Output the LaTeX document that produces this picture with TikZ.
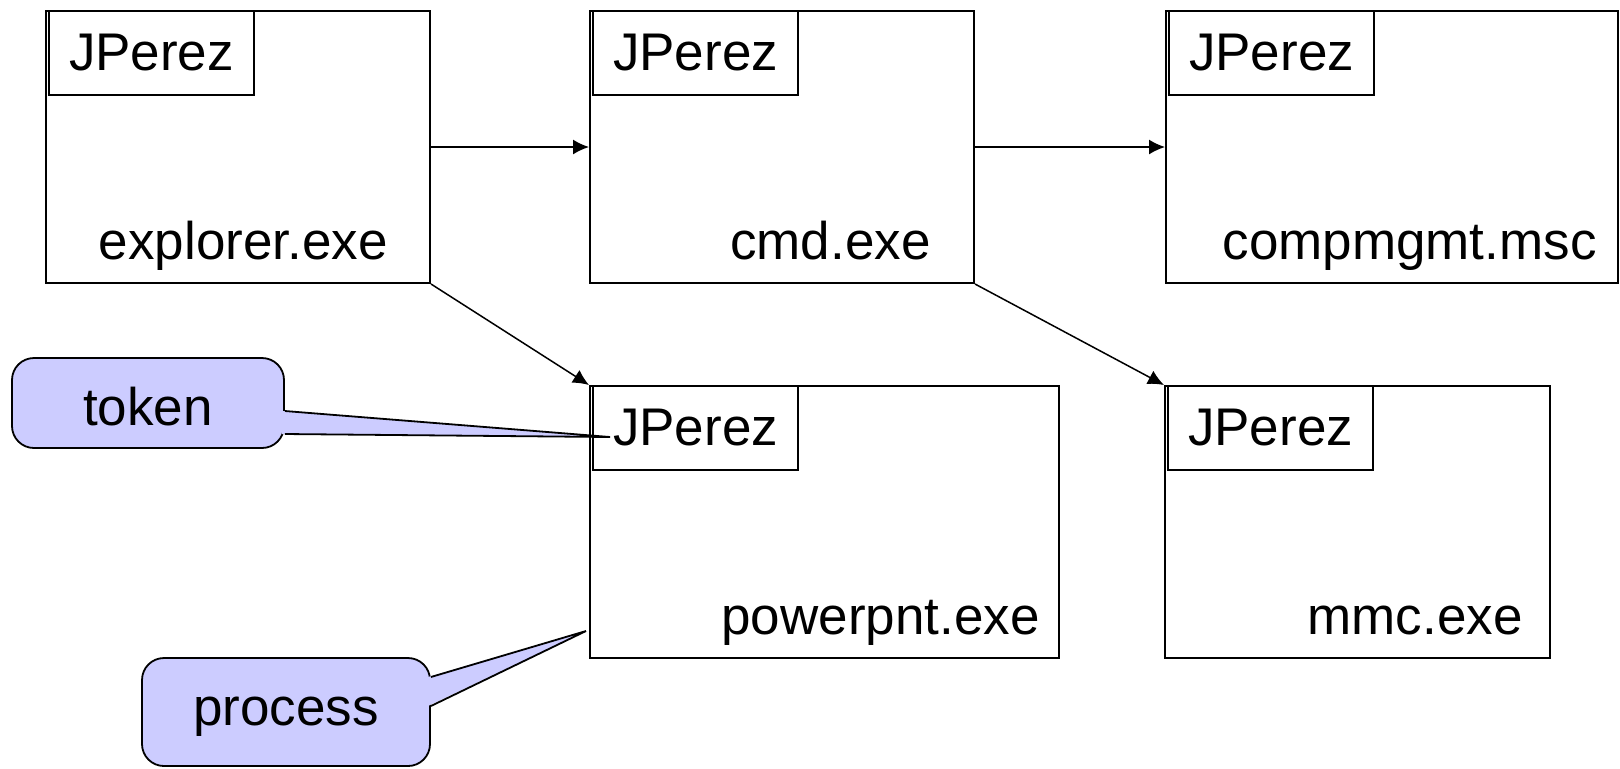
\documentclass[tikz,border=0pt]{standalone}
\usepackage{fontspec}
\setmainfont{Liberation Sans}
\usetikzlibrary{arrows.meta}
\definecolor{bubblefill}{RGB}{204,204,255}

\begin{document}
\begin{tikzpicture}[x=0.5pt, y=-0.5pt,
    font=\fontsize{26.5}{30}\selectfont,
    procbox/.style={draw, line width=1pt, minimum height=136pt, inner sep=0pt},
    tokbox/.style={draw, line width=1pt, anchor=north west, minimum width=102.5pt, minimum height=42pt, inner sep=0pt},
    exelabel/.style={anchor=base east, inner sep=0pt},
    conn/.style={line width=0.75pt, -{Latex[length=8pt,width=7.5pt]}},
    bubble/.style={draw, line width=0.9pt, fill=bubblefill, rounded corners=11pt, inner sep=0pt}]
  \useasboundingbox (0,0) rectangle (1620,768);

  % processes, each with its token
  \foreach \nm/\xc/\yc/\bw/\gap/\exe in {explorer/238/147/384/43/explorer.exe,
      cmd/782/147/384/44/cmd.exe, compmgmt/1392/147/452/22/compmgmt.msc,
      powerpnt/824.5/522/469/20/powerpnt.exe, mmc/1357.5/522/385/28/mmc.exe}{
    \node[procbox, minimum width=\bw*0.5pt] (\nm) at (\xc,\yc) {};
    \node[tokbox] (\nm-tok) at ([xshift=1.5pt]\nm.north west) {JPerez};
    \node[exelabel] (\nm-exe) at ([shift={(-\gap,-25)}]\nm.south east) {\exe};
  }

  \draw[conn] (explorer.east) -- (cmd.west);
  \draw[conn] (cmd.east) -- (compmgmt.west);
  \draw[conn] (explorer.south east) -- (powerpnt.north west);
  \draw[conn] (cmd.south east) -- (mmc.north west);

  % callouts
  \node[bubble, minimum width=136pt, minimum height=45pt, text height=22.5pt] (token) at (148,403) {token};
  \node[bubble, minimum width=144pt, minimum height=54pt, text height=19.2pt, text depth=5.6pt] (process) at (286,712) {process};

  \coordinate (tokentip) at ([shift={(18,9)}]powerpnt-tok.west);
  \coordinate (processtip) at ([shift={(-3,-28)}]powerpnt.south west);

  \fill[bubblefill] ([shift={(-3,8)}]token.east) -- (tokentip) -- ([shift={(-3,31)}]token.east) -- cycle;
  \draw[line width=0.9pt] ([yshift=-4pt]token.east) -- (tokentip) -- ([yshift=-15.5pt]token.east);
  \fill[bubblefill] ([shift={(-3,-35)}]process.east) -- (processtip) -- ([shift={(-3,-6)}]process.east) -- cycle;
  \draw[line width=0.9pt] ([yshift=17.5pt]process.east) -- (processtip) -- ([yshift=3pt]process.east);
\end{tikzpicture}
\end{document}
